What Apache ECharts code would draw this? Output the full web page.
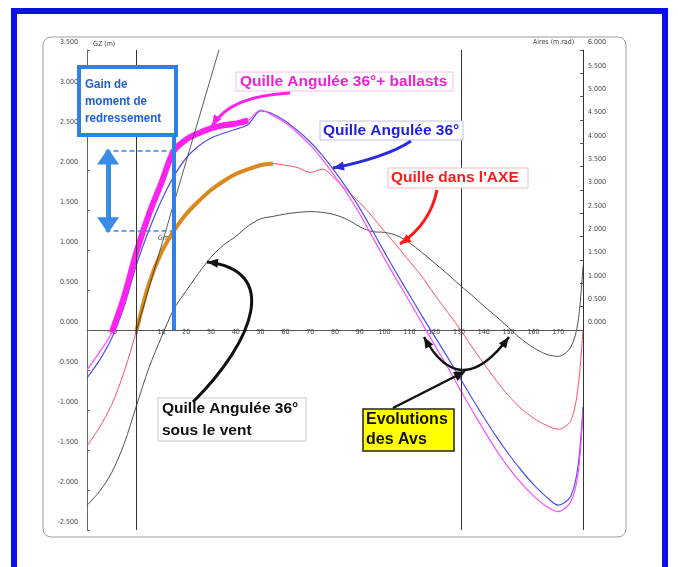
<!DOCTYPE html>
<html>
<head>
<meta charset="utf-8">
<script src="https://cdn.jsdelivr.net/npm/echarts@6/dist/echarts.min.js"></script>
<style>
  html, body { margin: 0; padding: 0; background: #fff; }
  #chart { width: 678px; height: 567px; }
</style>
</head>
<body>
<div id="chart"></div>
<script>
// Angle de gîte (degrés)
const angles = [-20, -15, -10, -5, 0, 5, 10, 15, 20, 25, 30, 35, 40, 45, 50, 55, 60, 65, 70, 75,
  80, 85, 90, 95, 100, 105, 110, 115, 120, 125, 130, 135, 140, 145, 150, 155, 160, 165, 170, 175, 178, 180];

// Bras de levier GZ (m) pour chaque configuration de quille
const gzQuilleAxe = [-1.45, -1.22, -0.93, -0.52, 0.00, 0.58, 0.97, 1.24, 1.45, 1.61, 1.75, 1.86, 1.95, 2.01, 2.06, 2.08, 2.06, 2.03, 1.97, 2.01,
  1.89, 1.74, 1.59, 1.42, 1.23, 1.05, 0.86, 0.67, 0.45, 0.24, 0.03, -0.20, -0.42, -0.63, -0.82, -0.98, -1.10, -1.19, -1.24, -1.14, -0.72, 0.00];

const gzAngulee36 = [-0.60, -0.38, -0.10, 0.30, 0.82, 1.25, 1.62, 1.92, 2.15, 2.30, 2.40, 2.46, 2.51, 2.57, 2.74, 2.70, 2.61, 2.49, 2.35, 2.18,
  1.98, 1.76, 1.52, 1.25, 0.97, 0.70, 0.44, 0.18, -0.07, -0.32, -0.58, -0.84, -1.09, -1.33, -1.55, -1.75, -1.93, -2.08, -2.19, -2.08, -1.70, -0.96];

const gzAngulee36Ballasts = [-0.50, -0.28, -0.03, 0.42, 0.98, 1.45, 1.84, 2.24, 2.38, 2.46, 2.52, 2.56, 2.58, 2.62, 2.75, 2.68, 2.59, 2.46, 2.31, 2.13,
  1.92, 1.70, 1.45, 1.17, 0.89, 0.62, 0.36, 0.09, -0.18, -0.44, -0.72, -0.99, -1.25, -1.50, -1.72, -1.91, -2.07, -2.20, -2.27, -2.15, -1.80, -1.00];

const gzSousLeVent = [-2.19, -2.02, -1.78, -1.42, -0.94, -0.47, -0.09, 0.26, 0.49, 0.71, 0.91, 1.06, 1.17, 1.30, 1.39, 1.42, 1.45, 1.47, 1.48, 1.47,
  1.44, 1.38, 1.29, 1.23, 1.22, 1.18, 1.09, 0.97, 0.84, 0.71, 0.57, 0.44, 0.30, 0.17, 0.03, -0.11, -0.22, -0.30, -0.33, -0.22, 0.10, 0.80];

// Graduations
const angleTicks = [-20, 180, 10];          // min, max, pas
const gzTicks = [-2.5, 3.5, 0.5];           // GZ (m)
const airesTicks = [0, 6, 0.5];             // Aires (m.rad)

// Repères
const angleRedressement = 15;   // angle de comparaison des moments
const angleAvsAxe = 131;        // angle de chavirement quille dans l'axe
const penteGM = [33.2, 3.5];    // point de la tangente à l'origine

const pairs = (vals, from, to) => angles
  .map((a, i) => [a, vals[i]])
  .filter(p => (from === undefined || p[0] >= from) && (to === undefined || p[0] <= to));

const valueAt = (vals, a) => vals[angles.indexOf(a)];
const gainHaut = valueAt(gzAngulee36Ballasts, angleRedressement);
const gainBas = valueAt(gzQuilleAxe, angleRedressement);

const chart = echarts.init(document.getElementById('chart'), null, { renderer: 'canvas' });

const axisFont = '"Liberation Sans Narrow", "DejaVu Sans Condensed", "Liberation Sans", sans-serif';
const labelFont = '"Liberation Sans", Arial, sans-serif';

function head(x, y, fx, fy, len, wid, color) {
  const a = Math.atan2(y - fy, x - fx);
  const bx = x - len * Math.cos(a), by = y - len * Math.sin(a);
  const px = -Math.sin(a) * wid / 2, py = Math.cos(a) * wid / 2;
  return { type: 'polygon', z: 101, shape: { points: [[x, y], [bx + px, by + py], [bx - px, by - py]] }, style: { fill: color } };
}

function curvedArrow(p0, c1, c2, p1, color, w, both) {
  const els = [{
    type: 'bezierCurve', z: 100,
    shape: { x1: p0[0], y1: p0[1], x2: p1[0], y2: p1[1], cpx1: c1[0], cpy1: c1[1], cpx2: c2 ? c2[0] : undefined, cpy2: c2 ? c2[1] : undefined },
    style: { stroke: color, lineWidth: w, fill: null }
  }];
  const last = c2 || c1;
  els.push(head(p1[0], p1[1], last[0], last[1], 11, 9, color));
  if (both) els.push(head(p0[0], p0[1], c1[0], c1[1], 11, 9, color));
  return els;
}

function box(x, y, w, h, stroke, fill, lw) {
  return { type: 'rect', z: 100, shape: { x, y, width: w, height: h }, style: { stroke, fill, lineWidth: lw || 1 } };
}

function label(x, y, text, color, size, sx) {
  return {
    type: 'text', z: 102, x, y, scaleX: sx || 1,
    style: { x: 0, y: 0, text, fill: color, fontSize: size || 15.5, fontWeight: 'bold', fontFamily: labelFont, verticalAlign: 'middle' }
  };
}

const graphics = [
  // cadre extérieur et panneau
  { type: 'rect', z: -1, shape: { x: 14, y: 11, width: 651, height: 600 }, style: { stroke: '#0b10e6', lineWidth: 6, fill: null } },
  { type: 'rect', z: -1, shape: { x: 43, y: 37, width: 583, height: 500, r: 8 }, style: { stroke: '#9c9c9c', lineWidth: 1, fill: null } },
  // titres des axes
  { type: 'text', style: { x: 93, y: 44, text: 'GZ (m)', fill: '#444', fontSize: 7, fontFamily: axisFont, verticalAlign: 'middle' } },
  { type: 'text', style: { x: 533, y: 42, text: 'Aires (m.rad)', fill: '#444', fontSize: 7, fontFamily: axisFont, verticalAlign: 'middle' } },
  { type: 'text', style: { x: 158, y: 238, text: 'Gm', fill: '#444', fontSize: 7, fontStyle: 'italic', fontFamily: axisFont, verticalAlign: 'middle' } },

  // Gain de moment de redressement
  box(79, 67, 97, 68, '#2f80ea', '#fff', 4),
  label(85, 84, 'Gain de', '#1f5fd6', 13.5, 0.86),
  label(85, 101, 'moment de', '#1f5fd6', 13.5, 0.86),
  label(85, 118, 'redressement', '#1f5fd6', 13.5, 0.86),

  // étiquettes des courbes
  box(236, 72, 217, 19, '#f6bdee', '#fff'),
  label(240, 82, 'Quille Angulée 36°+ ballasts', '#f01fd8'),
  box(320, 121, 143, 19, '#c0c0f2', '#fff'),
  label(323, 131, 'Quille Angulée 36°', '#1f1fdc'),
  box(388, 168, 140, 20, '#f8bcbc', '#fff'),
  label(391, 178, 'Quille dans l\'AXE', '#ff1a1a'),
  box(158, 398, 148, 43, '#c8c8c8', '#fff'),
  label(162, 409, 'Quille Angulée 36°', '#111'),
  label(162, 431, 'sous le vent', '#111'),
  box(363, 409, 91, 42, '#222', '#ffff00', 1.5),
  label(366, 420, 'Evolutions', '#111', 16),
  label(366, 440, 'des Avs', '#111', 16),

  ...curvedArrow([290, 93], [250, 95], [225, 105], [212, 126], '#ff22ee', 3),
  ...curvedArrow([411, 141], [395, 152], [365, 162], [333, 168], '#2a2ae0', 3),
  ...curvedArrow([437, 190], [432, 215], [418, 232], [400, 244], '#ff1a1a', 3),
  ...curvedArrow([193, 402], [255, 340], [280, 270], [207, 262], '#111', 3),
  ...curvedArrow([424, 337], [460, 403], null, [509, 337], '#111', 2.5, true),
  { type: 'line', z: 100, shape: { x1: 393, y1: 408, x2: 458, y2: 375 }, style: { stroke: '#111', lineWidth: 2.5 } },
  head(466, 371, 393, 408, 12, 10, '#111')
];

const thin = (name, data, color, w) => ({
  name, type: 'line', data, smooth: 0.3, symbol: 'none', xAxisIndex: 0, yAxisIndex: 0,
  lineStyle: { color, width: w }, itemStyle: { color }, z: 3
});

const option = {
  animation: false,
  backgroundColor: '#fff',
  grid: [
    { left: 87, right: 95, top: 50, bottom: 37 },
    // moitié haute : axe des angles sur GZ = 0 et axe des aires
    { left: 87, right: 95, top: 50, height: 280 }
  ],
  xAxis: [
    { type: 'value', gridIndex: 0, min: angleTicks[0], max: angleTicks[1], interval: angleTicks[2], show: false },
    {
      type: 'value', gridIndex: 1, min: angleTicks[0], max: angleTicks[1], interval: angleTicks[2],
      axisLine: { show: true, lineStyle: { color: '#555', width: 1 } },
      axisTick: { show: false },
      splitLine: { show: false },
      axisLabel: {
        margin: -1, fontSize: 7, color: '#444', fontFamily: axisFont,
        formatter: v => (v === angleTicks[0] || v === angleTicks[1]) ? '' : String(v)
      }
    }
  ],
  yAxis: [
    {
      type: 'value', gridIndex: 0, min: gzTicks[0], max: gzTicks[1], interval: gzTicks[2],
      axisLine: { show: true, onZero: false, lineStyle: { color: '#666' } },
      axisTick: { show: true, inside: true, length: 3, lineStyle: { color: '#666' } },
      splitLine: { show: false },
      axisLabel: {
        fontSize: 7, color: '#444', fontFamily: axisFont, margin: 9,
        verticalAlign: 'bottom', padding: [0, 0, 4, 0],
        formatter: v => v.toFixed(3)
      }
    },
    {
      type: 'value', gridIndex: 1, position: 'right', min: airesTicks[0], max: airesTicks[1], interval: airesTicks[2],
      axisLine: { show: true, onZero: false, lineStyle: { color: '#555' } },
      axisTick: { show: true, inside: true, length: 3, lineStyle: { color: '#555' } },
      splitLine: { show: false },
      axisLabel: {
        fontSize: 7, color: '#444', fontFamily: axisFont, margin: 5,
        verticalAlign: 'bottom', padding: [0, 0, 4, 0],
        formatter: v => v.toFixed(3)
      }
    }
  ],
  series: [
    Object.assign(thin('Quille dans l\'AXE', pairs(gzQuilleAxe), '#ff4d6d', 1), {
      markLine: {
        silent: true, symbol: 'none', label: { show: false },
        lineStyle: { color: '#333', width: 1, type: 'solid' },
        data: [
          { xAxis: 0 },
          { xAxis: angleAvsAxe },
          { xAxis: angleTicks[1] },
          [{ coord: [0, 0] }, { coord: penteGM, lineStyle: { width: 0.8, color: '#333' } }]
        ]
      }
    }),
    thin('Quille Angulée 36° sous le vent', pairs(gzSousLeVent), '#505050', 1),
    {
      name: 'Quille dans l\'AXE (zone utile)', type: 'line', data: pairs(gzQuilleAxe, 0, 55),
      smooth: 0.3, symbol: 'none', lineStyle: { color: '#d98a1e', width: 4 }, z: 4
    },
    thin('Quille Angulée 36°', pairs(gzAngulee36), '#4f4ff0', 1.2),
    thin('Quille Angulée 36°+ ballasts', pairs(gzAngulee36Ballasts), '#ff4dff', 1.2),
    {
      name: 'Quille Angulée 36°+ ballasts (zone utile)', type: 'line', data: pairs(gzAngulee36Ballasts, -10, 45),
      smooth: 0.3, symbol: 'none', lineStyle: { color: '#ff22ee', width: 6 }, z: 4,
      markLine: {
        silent: true, label: { show: false }, symbol: 'none',
        data: [
          [{ coord: [angleRedressement, 0], lineStyle: { color: '#2f80ea', width: 4, type: 'solid' } },
           { coord: [angleRedressement, 2.92] }],
          [{ coord: [-12.5, gainHaut], lineStyle: { color: '#3a86e8', width: 1.5, type: [5, 3] } },
           { coord: [angleRedressement, gainHaut] }],
          [{ coord: [-12.5, gainBas], lineStyle: { color: '#3a86e8', width: 1.5, type: [5, 3] } },
           { coord: [angleRedressement, gainBas] }],
          [{ coord: [-11.5, gainHaut - 0.07], symbol: 'triangle', symbolSize: [22, 16], lineStyle: { color: '#3a8ae8', width: 5, type: 'solid' } },
           { coord: [-11.5, gainBas + 0.07], symbol: 'triangle', symbolSize: [22, 16] }]
        ],
        itemStyle: { color: '#3a8ae8' }
      }
    },
    // axe secondaire des aires (sans tracé)
    { type: 'line', xAxisIndex: 1, yAxisIndex: 1, data: [], silent: true }
  ],
  graphic: graphics
};

chart.setOption(option);
</script>
</body>
</html>
